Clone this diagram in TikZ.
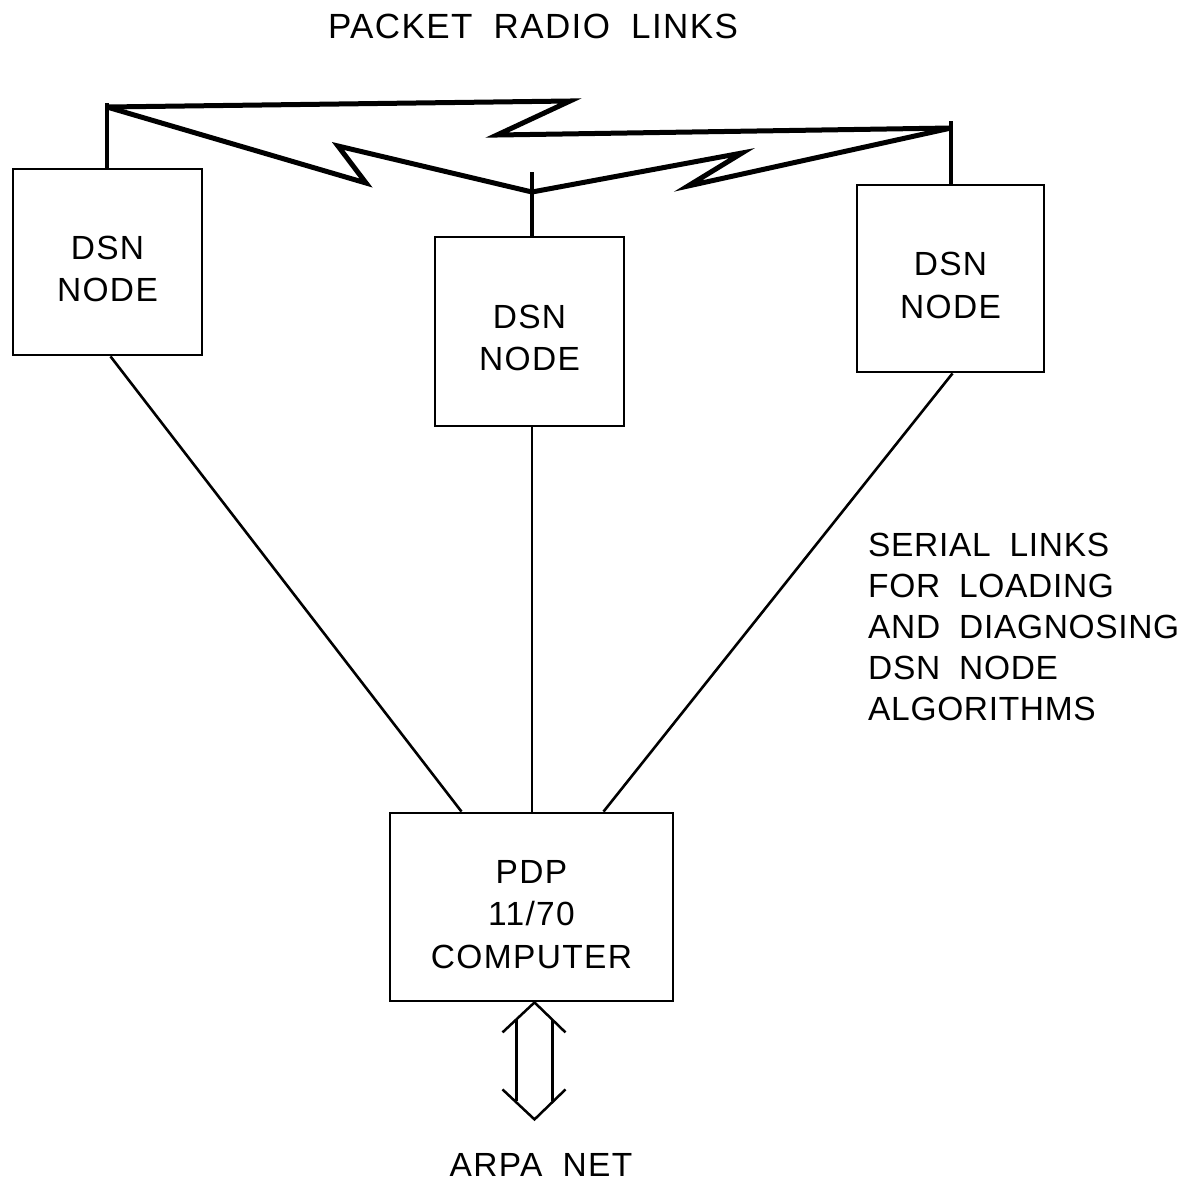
\documentclass[tikz,border=0pt]{standalone}
\usepackage{fontspec}
\setmainfont{Liberation Sans}[LetterSpace=4,WordSpace=1.9]
\usetikzlibrary{calc}
\begin{document}
\begin{tikzpicture}[x=1pt,y=-1pt,
  box/.style={draw, line width=2.8pt, align=center, font=\fontsize{33.5}{42.5}\selectfont, inner sep=0pt, text depth=0pt},
  radio/.style={line width=5pt, miter limit=20},
  antenna/.style={line width=4pt},
  serial/.style={line width=2.6pt},
  lbl/.style={font=\fontsize{33.5}{41}\selectfont, inner sep=0pt},
  dbl/.style={line width=2.5pt}]
\useasboundingbox[fill=white] (0,0) rectangle (1193,1187);

% boxes
\node[box, text height=79pt, minimum width=189pt, minimum height=186pt] (L) at (107.5,262) {DSN\\NODE};
\node[box, text height=78pt, minimum width=189pt, minimum height=189pt] (M) at (529.5,331.5) {DSN\\NODE};
\node[box, text height=79pt, minimum width=187pt, minimum height=187pt] (R) at (950.5,278.5) {DSN\\NODE};
\node[box, text height=122pt, minimum width=283pt, minimum height=188pt] (P) at (531.5,907) {PDP\\11/70\\COMPUTER};

% antennas
\coordinate (LT) at (107,103); \coordinate (LA) at (107,107);
\coordinate (MT) at (532,172); \coordinate (MA) at (532,192);
\coordinate (RT) at (951,121); \coordinate (RA) at (951,128);
\draw[antenna] (LT) -- (LT |- L.north);
\draw[antenna] (MT) -- (MT |- M.north);
\draw[antenna] (RT) -- (RT |- R.north);

% packet radio links
\draw[radio] (LA) -- (570,101) -- (497,135) -- (RA);
\draw[radio] (LA) -- (366,183) -- (338,146) -- (MA);
\draw[radio] (MA) -- (742,153) -- (688,186) -- (RA);

% serial links
\draw[serial] ($(L.south)+(3,0)$) -- ($(P.north)+(-70,0)$);
\draw[serial] (MA |- M.south) -- (MA |- P.north);
\draw[serial] ($(R.south)+(2,0)$) -- ($(P.north)+(72,0)$);

% double arrow to ARPA NET
\coordinate (AT) at ($(P.south)+(3,0)$);
\coordinate (AB) at ($(AT)+(0,117)$);
\draw[dbl] ($(AT)+(-32,30)$) -- (AT) -- ($(AT)+(31,30)$);
\draw[dbl] ($(AB)+(-32,-30)$) -- (AB) -- ($(AB)+(31,-30)$);
\draw[dbl] ($(AT)+(-18,18)$) -- ($(AB)+(-18,-18)$);
\draw[dbl] ($(AT)+(18,18)$) -- ($(AB)+(18,-18)$);

% labels
\node[lbl, font=\fontsize{35}{41}\selectfont] (title) at (533,26) {PACKET RADIO LINKS};
\node[lbl, align=left, anchor=north west, font=\fontsize{33.5}{41}\selectfont\addfontfeatures{LetterSpace=2}] (serialtxt) at (868,533) {SERIAL LINKS\\FOR LOADING\\AND DIAGNOSING\\DSN NODE\\ALGORITHMS};
\node[lbl] (arpa) at (541,1165) {ARPA NET};
\end{tikzpicture}
\end{document}
